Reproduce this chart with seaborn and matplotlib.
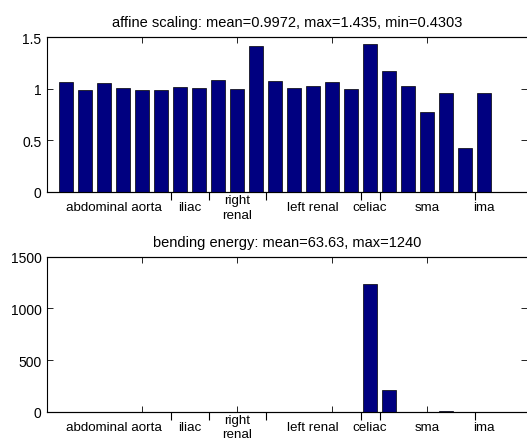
import numpy as np
import pandas as pd
import matplotlib
matplotlib.use("Agg")
import matplotlib.pyplot as plt
import seaborn as sns

# segment index (one bar per segment)
segments = list(range(1, 24))

# affine scaling per segment
affine = [1.065, 0.99, 1.052, 1.01, 0.99, 0.99, 1.013, 1.01, 1.087, 0.994, 1.413, 1.077,
          1.003, 1.026, 1.061, 0.998, 1.435, 1.171, 1.023, 0.777, 0.958, 0.4303, 0.955]

# bending energy per segment
bending = [0.3, 0.2, 0.3, 0.2, 0.2, 0.2, 0.3, 0.2, 0.4, 0.3, 0.5, 0.4,
           0.3, 0.3, 0.4, 0.5, 1240, 213, 0.6, 0.4, 9.5, 0.3, 0.5]

# vessel groups
group_names = ["abdominal aorta", "iliac", "right\nrenal", "left renal", "celiac", "sma", "ima"]
group_centers = [3.5, 7.5, 10, 14, 17, 20, 23]
group_edges = [6.5, 8.5, 11.5, 16.5, 17.5, 22.5]

titles = ["affine scaling: mean=0.9972, max=1.435, min=0.4303",
          "bending energy: mean=63.63, max=1240"]
yticks = [[0, 0.5, 1, 1.5], [0, 500, 1000, 1500]]
yticklabels = [["0", "0.5", "1", "1.5"], ["0", "500", "1000", "1500"]]
ylims = [(0, 1.5), (0, 1500)]

sns.set_style("white")
plt.rcParams["font.family"] = ["Liberation Sans", "DejaVu Sans"]
for k in ["text.color", "xtick.color", "ytick.color", "axes.labelcolor"]:
    plt.rcParams[k] = "black"

W, H = 527, 439
fig = plt.figure(figsize=(W / 100, H / 100), dpi=100)
ax_top = fig.add_axes([47 / W, 1 - 193 / H, 480 / W, 155 / H])
ax_bot = fig.add_axes([47 / W, 1 - 412.7 / H, 480 / W, 155 / H])

df = pd.DataFrame({"segment": segments, "affine": affine, "bending": bending})

for i, (ax, col) in enumerate([(ax_top, "affine"), (ax_bot, "bending")]):
    sns.barplot(data=df, x="segment", y=col, native_scale=True, width=0.78,
                color="#000080", saturation=1, edgecolor="black", linewidth=0.5, ax=ax)
    ax.set_xlim(0, 25.26)
    ax.set_ylim(*ylims[i])
    ax.set_xlabel("")
    ax.set_ylabel("")
    ax.set_title(titles[i], fontsize=10.5, pad=8)

    for s in ["left", "bottom", "top"]:
        ax.spines[s].set_visible(True)
        ax.spines[s].set_color("black")
        ax.spines[s].set_linewidth(0.8)
    ax.spines["right"].set_visible(False)

    # y ticks inward on both sides
    ax.set_yticks(yticks[i], yticklabels[i])
    ax.tick_params(axis="y", left=True, right=True, direction="in", length=4,
                   width=0.6, pad=4, labelsize=10)

    # group labels at centers, group boundaries as outward minor ticks
    ax.set_xticks(group_centers, group_names)
    ax.set_xticks(group_edges, minor=True)
    ax.tick_params(axis="x", which="major", length=0, pad=11, labelsize=9.6)
    ax.tick_params(axis="x", which="minor", bottom=True, direction="out", length=6, width=0.8)
    for lab in ax.get_xticklabels():
        lab.set_verticalalignment("center")
        lab.set_linespacing(1.3)

    # default inward ticks at 5, 10, 15, 20 on top and bottom
    for loc in ["top", "bottom"]:
        sec = ax.secondary_xaxis(loc)
        sec.set_xticks([5, 10, 15, 20])
        sec.tick_params(direction="in", length=4, width=0.6, labeltop=False,
                        labelbottom=False)
        sec.spines[loc].set_linewidth(0.8)

fig.savefig("out.png", dpi=100)
